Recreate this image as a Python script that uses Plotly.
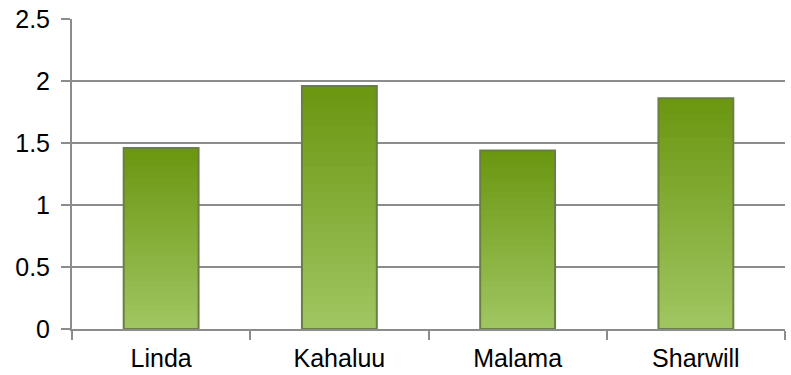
import plotly.graph_objects as go

# Sites and measured values
sites = ["Linda", "Kahaluu", "Malama", "Sharwill"]
values = [1.46, 1.96, 1.44, 1.86]

# Y-axis ticks
y_ticks = [0, 0.5, 1, 1.5, 2, 2.5]
y_tick_labels = ["0", "0.5", "1", "1.5", "2", "2.5"]

axis_grey = "#8c8c8c"
font = dict(family="Liberation Sans, Arial, sans-serif", size=25, color="#000000")
bar_width = 0.42

# Vertical shading of the bars: dark green at the top fading to light green at the base
top_rgb = (106, 150, 16)
bottom_rgb = (160, 198, 98)
n_steps = 30


def blend(t):
    r, g, b = (round(bottom_rgb[i] + (top_rgb[i] - bottom_rgb[i]) * t) for i in range(3))
    return f"rgb({r},{g},{b})"


fig = go.Figure()
# Each layer runs from its own start height up to the bar top, so layers
# overlap and no seams appear between bands.
for k in range(n_steps):
    t = (k + 0.5) / n_steps
    bases = [v * k / n_steps for v in values]
    fig.add_trace(go.Bar(
        x=sites,
        y=[v - b for v, b in zip(values, bases)],
        base=bases,
        width=bar_width,
        marker=dict(color=blend(t), line=dict(width=0)),
        hoverinfo="skip",
    ))

# Outline drawn over the shaded bars
fig.add_trace(go.Bar(
    x=sites,
    y=values,
    width=bar_width,
    marker=dict(color="rgba(0,0,0,0)", line=dict(color="#6a7f45", width=2)),
    hoverinfo="x+y",
))

fig.update_layout(
    width=791,
    height=375,
    margin=dict(l=72, r=6, t=19, b=46),
    paper_bgcolor="white",
    plot_bgcolor="white",
    font=font,
    showlegend=False,
    barmode="overlay",
)

fig.update_xaxes(
    showline=True,
    linecolor=axis_grey,
    linewidth=2,
    ticks="outside",
    tickson="boundaries",
    ticklen=9,
    tickwidth=2,
    tickcolor=axis_grey,
    showgrid=False,
    tickfont=font,
    ticklabelstandoff=6,
    automargin=False,
)

fig.update_yaxes(
    range=[0, 2.5],
    tickvals=y_ticks,
    ticktext=y_tick_labels,
    showline=True,
    linecolor=axis_grey,
    linewidth=2,
    ticks="outside",
    ticklen=9,
    tickwidth=2,
    tickcolor=axis_grey,
    showgrid=True,
    gridcolor=axis_grey,
    gridwidth=2,
    zeroline=False,
    tickfont=font,
    ticklabelstandoff=6,
    automargin=False,
)

fig.write_html("out.html")
